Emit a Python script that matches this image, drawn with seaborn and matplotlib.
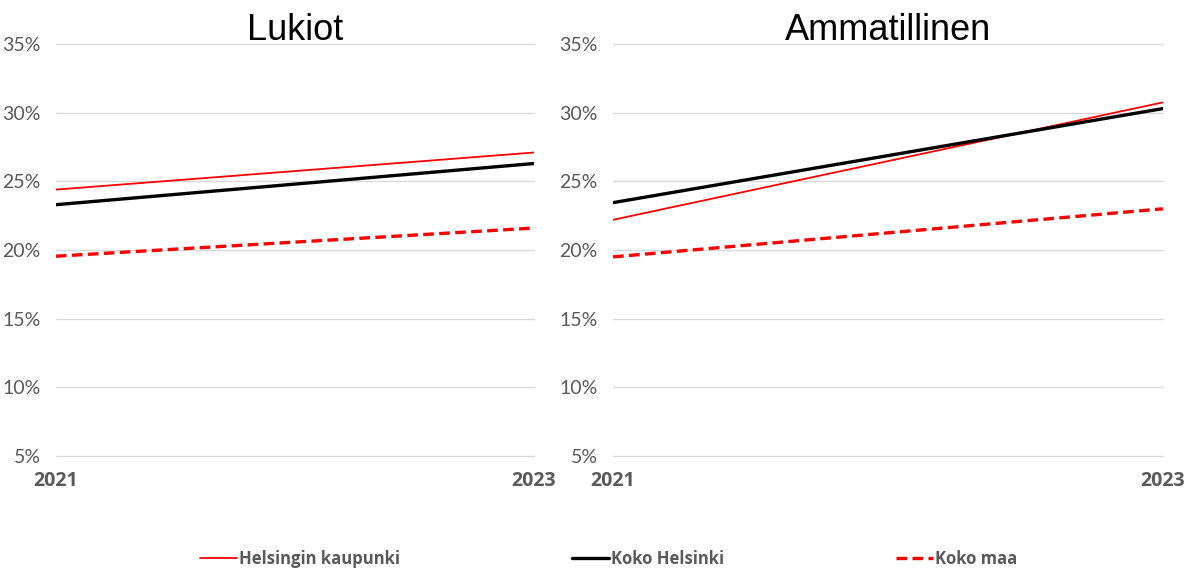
import matplotlib
matplotlib.use("Agg")
import matplotlib.pyplot as plt
import seaborn as sns
import pandas as pd
from matplotlib.ticker import FuncFormatter
from matplotlib.lines import Line2D

years = [2021, 2023]
panels = ["Lukiot", "Ammatillinen"]
series = ["Helsingin kaupunki", "Koko Helsinki", "Koko maa"]
lukiot_hki_kaupunki = [24.4, 27.1]
lukiot_koko_helsinki = [23.3, 26.3]
lukiot_koko_maa = [19.55, 21.6]
amm_hki_kaupunki = [22.2, 30.75]
amm_koko_helsinki = [23.45, 30.3]
amm_koko_maa = [19.5, 23.0]
y_ticks = [5, 10, 15, 20, 25, 30, 35]

rows = []
for panel, vals in zip(panels, [
        [lukiot_hki_kaupunki, lukiot_koko_helsinki, lukiot_koko_maa],
        [amm_hki_kaupunki, amm_koko_helsinki, amm_koko_maa]]):
    for s, v in zip(series, vals):
        for y, val in zip(years, v):
            rows.append({"panel": panel, "series": s, "year": y, "value": val})
df = pd.DataFrame(rows)

sns.set_style("white")
plt.rcParams['font.family'] = ['Lato', 'DejaVu Sans']

styles = {
    "Helsingin kaupunki": dict(color="#ff0000", lw=1.3, ls="-"),
    "Koko Helsinki": dict(color="#000000", lw=2.4, ls="-"),
    "Koko maa": dict(color="#ff0000", lw=2.4, ls=(0, (3.2, 1.6))),
}

fig = plt.figure(figsize=(11.89, 5.69), dpi=100)
positions = [[0.047, 0.1986, 0.402, 0.724], [0.5156, 0.1986, 0.4624, 0.724]]
tick_color = "#595959"
for panel, pos in zip(panels, positions):
    ax = fig.add_axes(pos)
    sub = df[df.panel == panel]
    for s in series:
        st = styles[s]
        d = sub[sub.series == s]
        sns.lineplot(data=d, x="year", y="value", ax=ax, color=st["color"],
                     linewidth=st["lw"], linestyle=st["ls"], legend=False, zorder=3)
    ax.set_xlim(2021, 2023)
    ax.set_ylim(5, 35)
    ax.set_yticks(y_ticks)
    ax.yaxis.set_major_formatter(FuncFormatter(lambda v, p: f"{v:.0f}%"))
    ax.set_xticks(years)
    ax.set_xticklabels([str(y) for y in years], fontweight="bold", color=tick_color,
                       fontsize=14, family="Open Sans")
    for lab in ax.get_yticklabels():
        lab.set_color(tick_color)
        lab.set_fontsize(14)
    ax.grid(axis="y", color="#d9d9d9", lw=1.0, zorder=0)
    for gl in ax.get_ygridlines():
        gl.set_clip_on(False)
    ax.set_axisbelow(True)
    for sp in ax.spines.values():
        sp.set_visible(False)
    ax.tick_params(axis="both", length=0)
    ax.tick_params(axis="y", pad=11)
    ax.tick_params(axis="x", pad=11)
    ax.set_xlabel("")
    ax.set_ylabel("")
    ax.set_title(panel, fontsize=26, family="Liberation Sans", color="black", pad=0, y=1.01)

handles = [Line2D([0], [0], color=styles[s]["color"], lw=styles[s]["lw"], ls=styles[s]["ls"]) for s in series]
leg = fig.legend(handles, series, loc="lower center", bbox_to_anchor=(0.512, -0.025), ncol=3,
                 frameon=False, handlelength=2.2, handletextpad=0.15, columnspacing=10.3,
                 prop={"weight": "bold", "size": 12, "family": "Open Sans"})
for t in leg.get_texts():
    t.set_color(tick_color)

fig.savefig("out.png", dpi=100)
